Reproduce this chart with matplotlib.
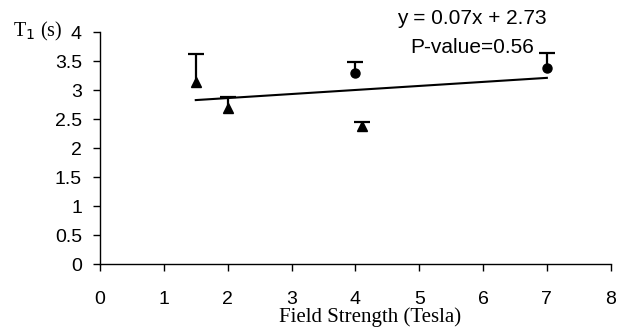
import numpy as np
import matplotlib
matplotlib.use("Agg")
import matplotlib.pyplot as plt

# ── Data ───────────────────────────────────────────────────────────
tri_x   = [1.5, 2.0, 4.1]
tri_y   = [3.15, 2.70, 2.39]
tri_err = [0.47, 0.19, 0.06]

dot_x   = [4.0, 7.0]
dot_y   = [3.30, 3.39]
dot_err = [0.19, 0.26]

x_ticks = list(range(0, 9))
y_ticks = [0, 0.5, 1, 1.5, 2, 2.5, 3, 3.5, 4]

equation = "y = 0.07x + 2.73"
p_text   = "P-value=0.56"

SANS  = "Liberation Sans"
SERIF = "Liberation Serif"

# linear fit through all points
all_x = np.array(tri_x + dot_x)
all_y = np.array(tri_y + dot_y)
slope, intercept = np.polyfit(all_x, all_y, 1)

fig = plt.figure(figsize=(6.31, 3.29), dpi=100)
ax = fig.add_axes([0.1585, 0.1967, 0.8093, 0.7051])

# upper-only error bars with a cap at the top
for xs, ys, es in [(tri_x, tri_y, tri_err), (dot_x, dot_y, dot_err)]:
    ys = np.array(ys)
    es = np.array(es)
    ax.errorbar(xs, ys, yerr=[np.zeros_like(es), es], fmt="none",
                ecolor="black", elinewidth=1.6, capsize=0)
    ax.plot(xs, ys + es, ls="none", marker="_", markersize=11,
            markeredgewidth=1.6, color="black")

ax.plot(tri_x, tri_y, ls="none", marker="^", markersize=7.5, color="black")
ax.plot(dot_x, dot_y, ls="none", marker="o", markersize=6.5, color="black")

fit_x = np.array([all_x.min(), all_x.max()])
ax.plot(fit_x, slope * fit_x + intercept, color="black", lw=1.5)

ax.set_xlim(0, 8)
ax.set_ylim(0, 4)
ax.set_xticks(x_ticks)
ax.set_yticks(y_ticks)
ax.set_xticklabels([str(v) for v in x_ticks], fontfamily=SANS, fontsize=14)
ax.set_yticklabels([f"{v:g}" for v in y_ticks], fontfamily=SANS, fontsize=14)
ax.tick_params(axis="x", direction="out", length=5, width=1, pad=14)
ax.tick_params(axis="y", direction="out", length=5, width=1, pad=8)

for side in ["top", "right"]:
    ax.spines[side].set_visible(False)
for side in ["left", "bottom"]:
    ax.spines[side].set_linewidth(1)

ax.text(5.83, 4.24, equation, ha="center", va="center",
        fontfamily=SANS, fontsize=15, clip_on=False)
ax.text(5.83, 3.74, p_text, ha="center", va="center",
        fontfamily=SANS, fontsize=15, clip_on=False)

fig.text(13 / 631, 1 - 31 / 329, "T$_1$ (s)", ha="left", va="center",
         fontfamily=SERIF, fontsize=14.5)
fig.text(370 / 631, 1 - 317 / 329, "Field Strength (Tesla)", ha="center",
         va="center", fontfamily=SERIF, fontsize=15)

fig.savefig("out.png", dpi=100)
